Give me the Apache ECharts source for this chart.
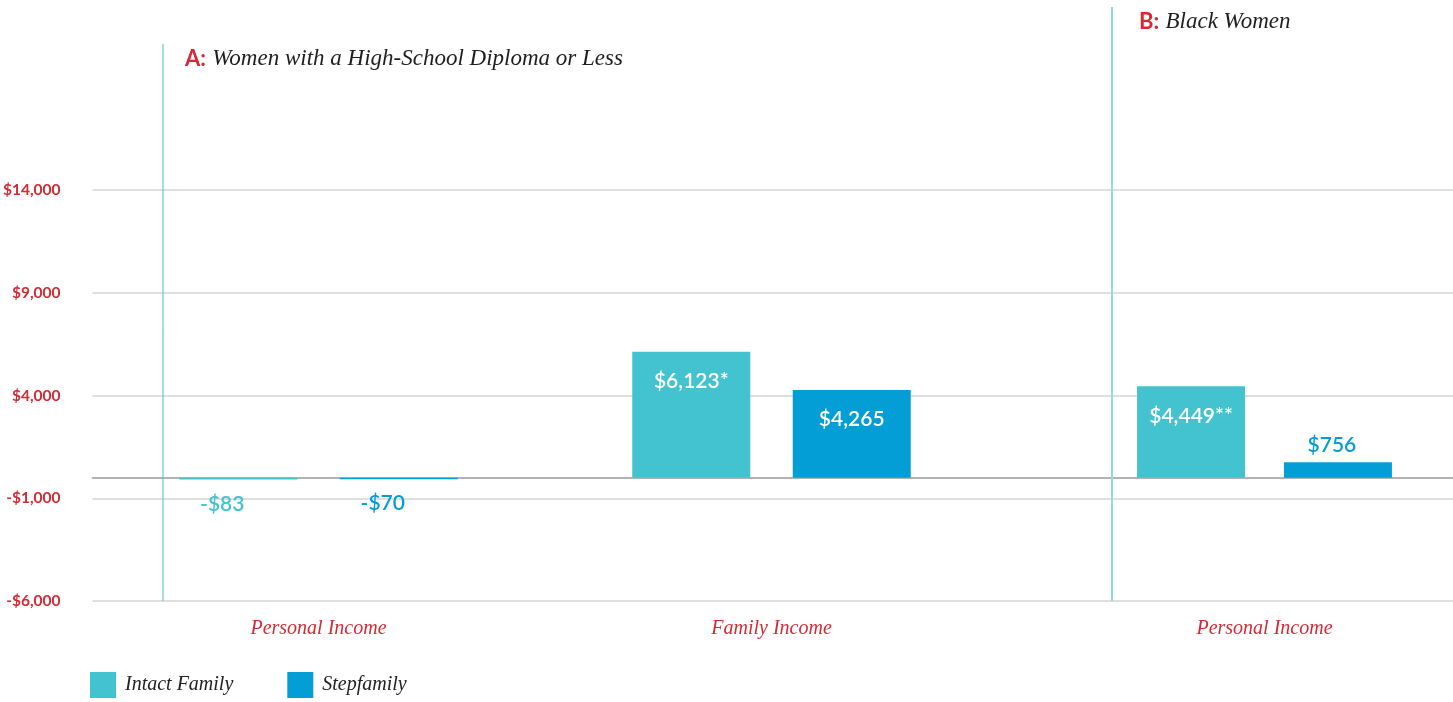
<!DOCTYPE html>
<html>
<head>
<meta charset="utf-8">
<script src="https://cdn.jsdelivr.net/npm/echarts@6/dist/echarts.min.js"></script>
<style>
    html, body { margin: 0; padding: 0; background: #fff; }
    #chart { width: 1453px; height: 702px; }
</style>
</head>
<body>
<div id="chart"></div>
<script>
(function () {

    // panel A: women with a high-school diploma or less
    var categoriesA = ['Personal Income', 'Family Income'];
    var intactA = [-83, 6123];
    var stepA = [-70, 4265];
    var intactNotesA = ['', '*'];
    var stepNotesA = ['', ''];

    // panel B: black women
    var categoriesB = ['Personal Income'];
    var intactB = [4449];
    var stepB = [756];
    var intactNotesB = ['**'];
    var stepNotesB = [''];

    var yTicks = [-6000, -1000, 4000, 9000, 14000];
    var seriesNames = ['Intact Family', 'Stepfamily'];

    var RED = '#d42a35';
    var INTACT = '#42c3cf';
    var STEP = '#049ed6';
    var SERIF = '"Liberation Serif", "DejaVu Serif", serif';
    var SANS = 'Lato, "Open Sans", sans-serif';

    function money(v) {
        var s = '$' + Math.abs(v).toLocaleString('en-US');
        return v < 0 ? '-' + s : s;
    }

    // label goes inside big bars, above small ones, below negative ones
    function barData(values, notes, color) {
        return values.map(function (v, i) {
            var label;
            if (v < 0) {
                label = { position: 'bottom', distance: 14, color: color, offset: [-16, 0] };
            } else if (v < 2000) {
                label = { position: 'top', distance: 6, color: color, offset: [-6, 0] };
            } else {
                label = { position: 'insideTop', distance: 19, color: '#fff' };
            }
            label.formatter = money(v) + notes[i];
            return { value: v, label: label };
        });
    }

    var yMin = yTicks[0], yMax = yTicks[yTicks.length - 1];
    var yStep = yTicks[1] - yTicks[0];

    var labelBase = {
        show: true,
        fontFamily: SANS,
        fontSize: 21,
        fontWeight: 600
    };

    function bar(name, xi, data, width, color) {
        return {
            name: name,
            type: 'bar',
            xAxisIndex: xi,
            yAxisIndex: xi,
            barWidth: width,
            barGap: '36%',
            itemStyle: { color: color },
            label: labelBase,
            data: data,
            z: 3
        };
    }

    var catAxis = function (gi, cats) {
        return {
            type: 'category',
            gridIndex: gi,
            data: cats,
            axisLine: { show: false, onZero: false },
            axisTick: { show: false },
            axisLabel: {
                margin: 18,
                color: RED,
                fontFamily: SERIF,
                fontStyle: 'italic',
                fontSize: 20
            }
        };
    };

    var hiddenY = function (gi) {
        return {
            type: 'value', gridIndex: gi, min: yMin, max: yMax, interval: yStep,
            show: false, splitLine: { show: false }
        };
    };

    var option = {
        animation: false,
        textStyle: { fontFamily: SANS },
        legend: {
            left: 90,
            top: 672,
            padding: 0,
            itemWidth: 26,
            itemHeight: 26,
            itemGap: 54,
            icon: 'rect',
            data: seriesNames,
            textStyle: {
                fontFamily: SERIF,
                fontStyle: 'italic',
                fontSize: 20,
                color: '#222',
                padding: [4, 0, 0, 4]
            }
        },
        grid: [
            { left: 92, right: 0, top: 190, bottom: 101 },
            { left: 92, width: 906, top: 190, bottom: 101 },
            { left: 1076, right: 0, top: 190, bottom: 101 }
        ],
        xAxis: [
            {
                type: 'category', gridIndex: 0, data: [''],
                axisLine: { show: true, onZero: true, lineStyle: { color: '#b3b3b3', width: 2 } },
                axisTick: { show: false },
                axisLabel: { show: false }
            },
            catAxis(1, categoriesA),
            catAxis(2, categoriesB)
        ],
        yAxis: [
            {
                type: 'value', gridIndex: 0, min: yMin, max: yMax, interval: yStep,
                axisLine: { show: false },
                axisTick: { show: false },
                splitLine: { lineStyle: { color: '#d4d4d4', width: 1.5 } },
                axisLabel: {
                    margin: 32,
                    color: RED,
                    fontFamily: SANS,
                    fontWeight: 'bold',
                    fontSize: 15.5,
                    formatter: money
                }
            },
            hiddenY(1),
            hiddenY(2)
        ],
        series: [
            bar(seriesNames[0], 1, barData(intactA, intactNotesA, INTACT), 118, INTACT),
            bar(seriesNames[1], 1, barData(stepA, stepNotesA, STEP), 118, STEP),
            bar(seriesNames[0], 2, barData(intactB, intactNotesB, INTACT), 108, INTACT),
            bar(seriesNames[1], 2, barData(stepB, stepNotesB, STEP), 108, STEP)
        ],
        graphic: [
            // panel dividers
            { type: 'line', shape: { x1: 163, y1: 44, x2: 163, y2: 601 }, style: { stroke: '#4fb9c9', lineWidth: 1 }, z: 1 },
            { type: 'line', shape: { x1: 1112, y1: 7, x2: 1112, y2: 601 }, style: { stroke: '#8fdae5', lineWidth: 2 }, z: 1 },
            {
                type: 'text', left: 185, top: 47,
                style: {
                    text: '{k|A:} {t|Women with a High-School Diploma or Less}',
                    rich: {
                        k: { fontFamily: SANS, fontWeight: 'bold', fontSize: 22, fill: RED, padding: [0, 3, 0, 0] },
                        t: { fontFamily: SERIF, fontStyle: 'italic', fontSize: 23, fill: '#1e1e1e' }
                    }
                }
            },
            {
                type: 'text', left: 1139, top: 10,
                style: {
                    text: '{k|B:} {t|Black Women}',
                    rich: {
                        k: { fontFamily: SANS, fontWeight: 'bold', fontSize: 22, fill: RED, padding: [0, 3, 0, 0] },
                        t: { fontFamily: SERIF, fontStyle: 'italic', fontSize: 23, fill: '#1e1e1e' }
                    }
                }
            }
        ]
    };

    var chart = echarts.init(document.getElementById('chart'));
    chart.setOption(option);

})();
</script>
</body>
</html>
